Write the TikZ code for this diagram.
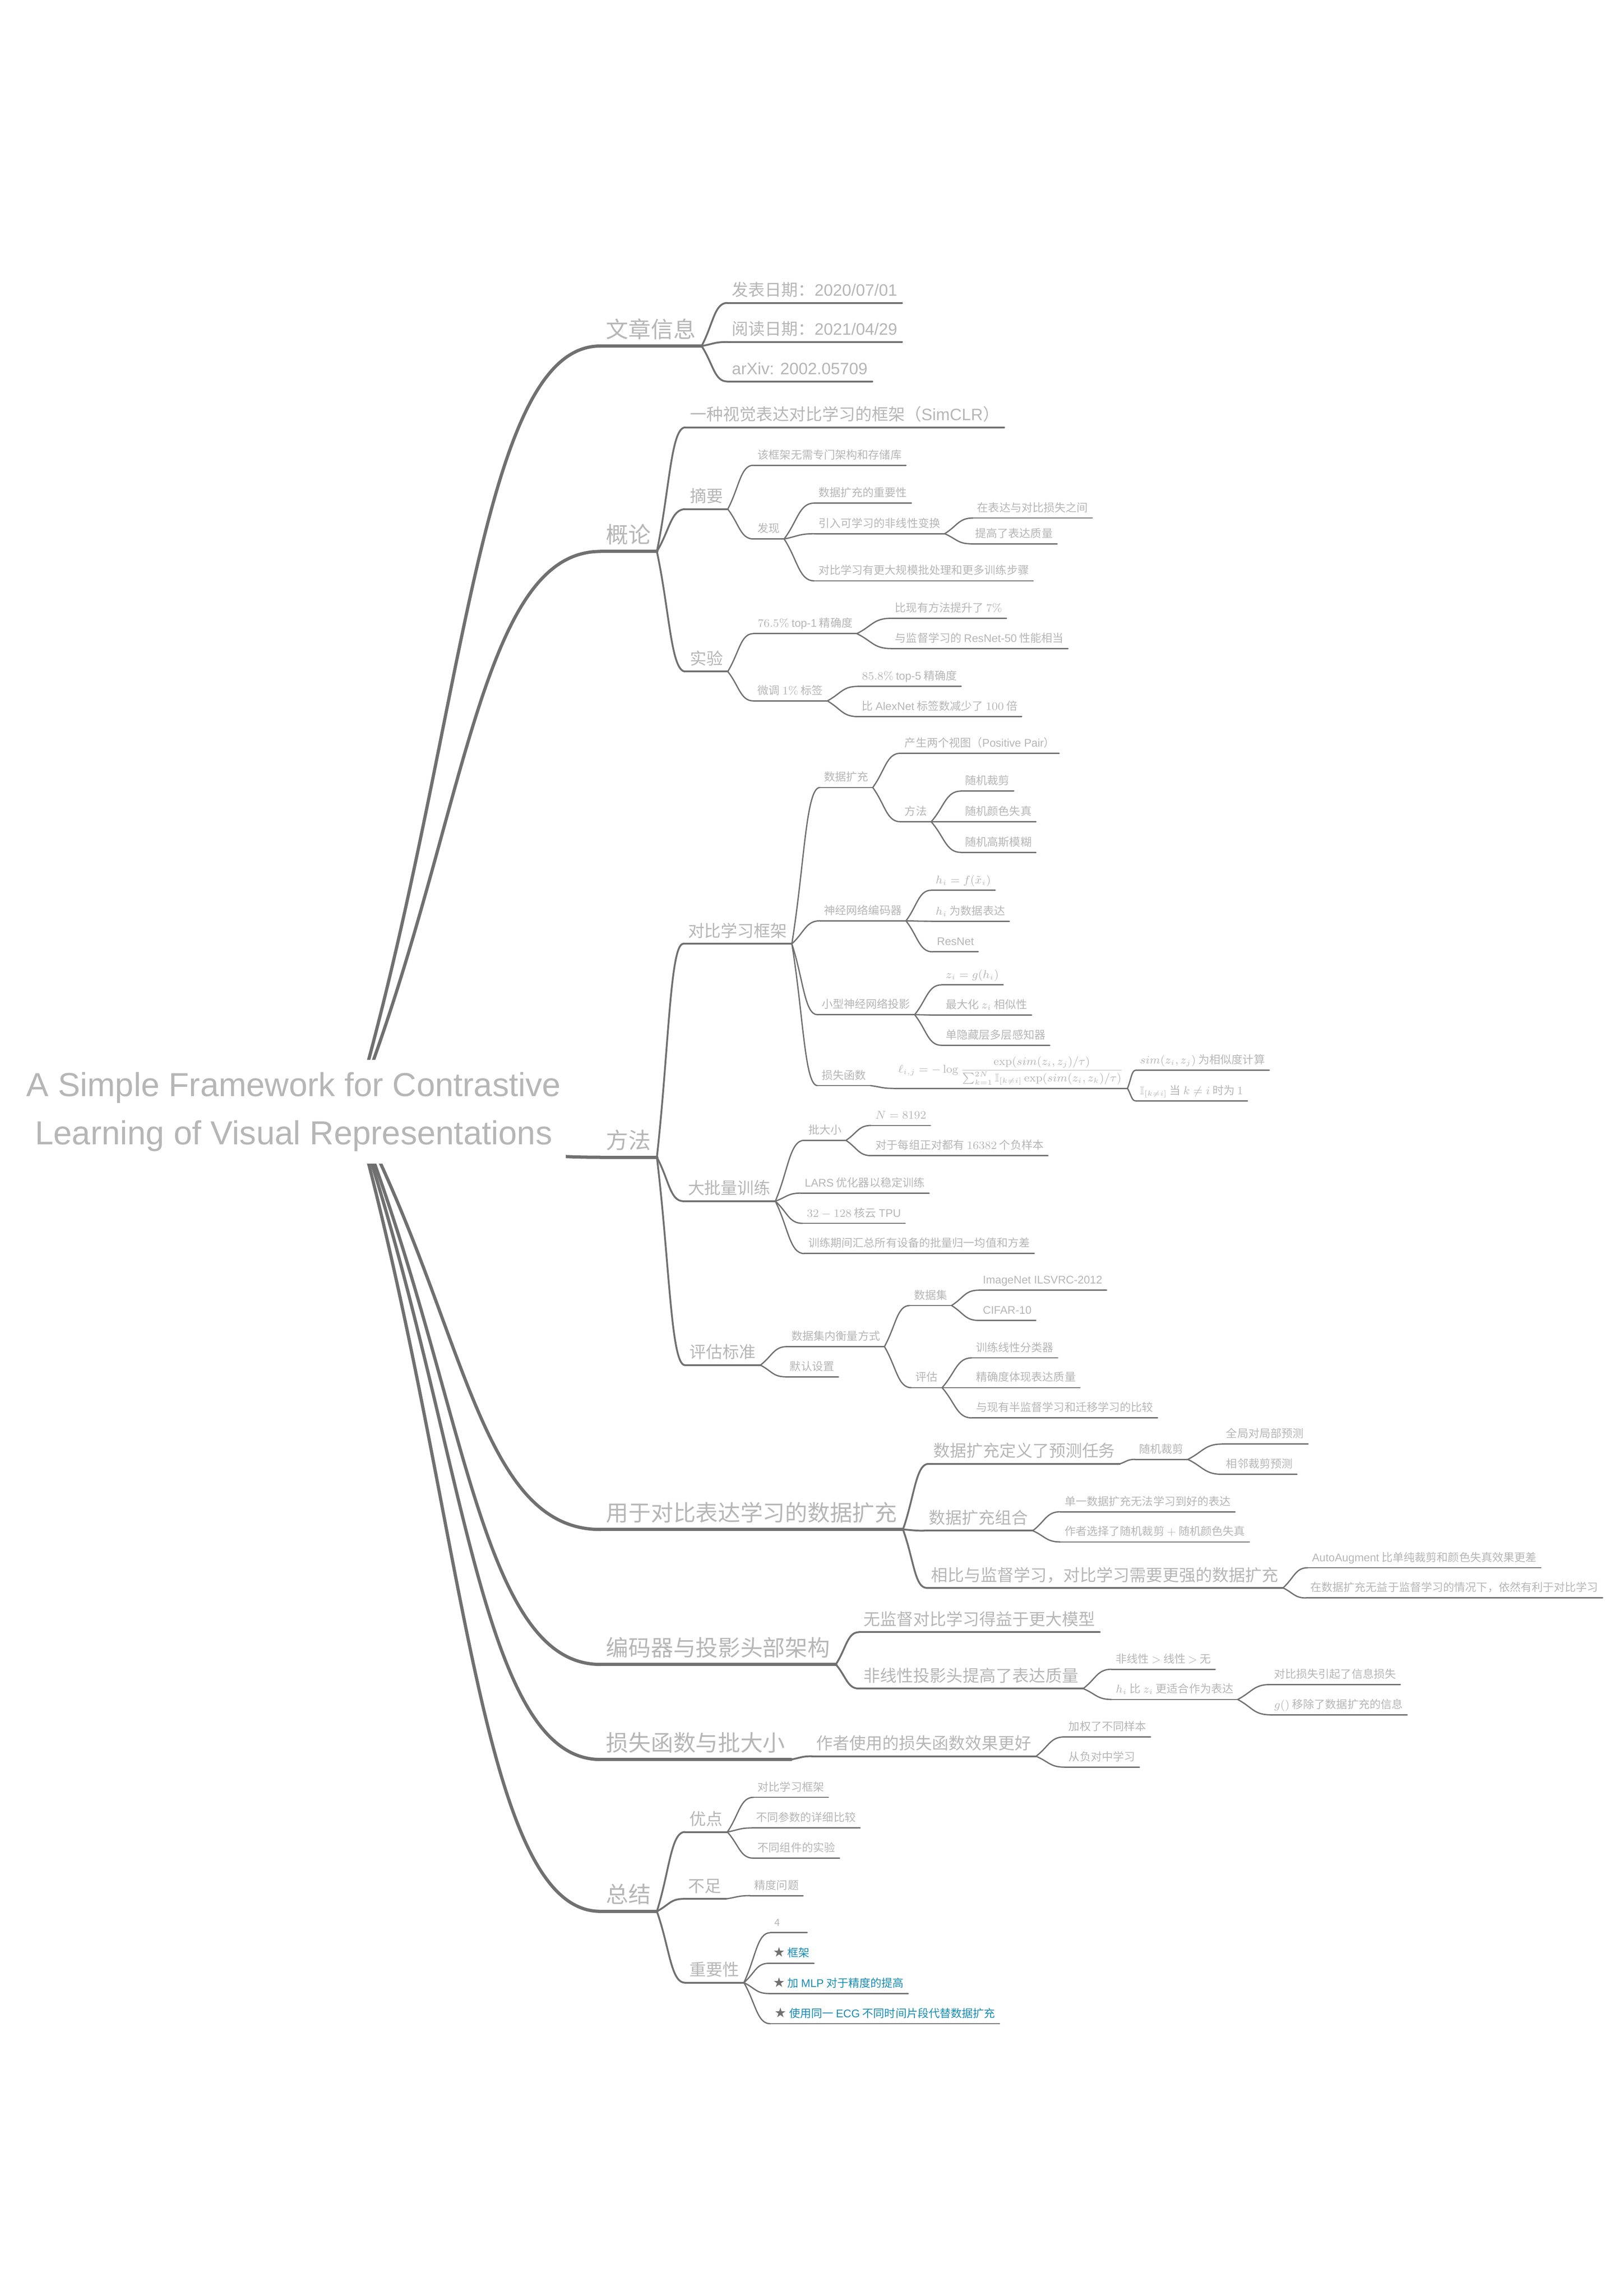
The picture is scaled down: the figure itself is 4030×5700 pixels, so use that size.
\documentclass[tikz,border=0pt]{standalone}
\usepackage{amsmath,amssymb}
\usepackage[no-math]{fontspec}
\setmainfont{Noto Sans CJK SC}
\newfontfamily\latfont{Liberation Sans}
\newfontfamily\starfont{DejaVu Sans}
\usepackage{xcolor}
\usetikzlibrary{calc}
\definecolor{linegray}{RGB}{112,112,112}
\definecolor{textgray}{RGB}{182,182,182}
\definecolor{keyblue}{RGB}{24,140,181}
\newcommand\fzroot{\fontsize{23.5pt}{34pt}\selectfont}
\newcommand\fzone{\fontsize{15.8pt}{19pt}\selectfont}
\newcommand\fztwo{\fontsize{11.67pt}{14pt}\selectfont}
\newcommand\fzthree{\fontsize{7.82pt}{9.4pt}\selectfont}
\newcommand\lat[1]{{\latfont #1}}
\newcommand\key[1]{{\starfont\fontsize{9.5pt}{9.4pt}\selectfont\textcolor{linegray}{★}}\ \textcolor{keyblue}{#1}}
\tikzstyle{topic}=[anchor=south west, text=textgray, text height=0.85em, text depth=0.15em]
\tikzstyle{lone}=[topic, font=\fzone, inner xsep=1.4mm, inner ysep=1.5mm]
\tikzstyle{ltwo}=[topic, font=\fztwo, inner xsep=1.1mm, inner ysep=1.1mm]
\tikzstyle{lthree}=[topic, font=\fzthree, inner xsep=1mm, inner ysep=1mm]
\tikzstyle{wone}=[draw=linegray, line width=0.8mm, line cap=round]
\tikzstyle{wtwo}=[draw=linegray, line width=0.45mm, line cap=round]
\tikzstyle{wthree}=[draw=linegray, line width=0.32mm, line cap=round]
\tikzstyle{link}=[to path={let \p1=(\tikztostart), \p2=(\tikztotarget) in
  .. controls ({\x1+0.45*(\x2-\x1)},{\y1+0.5*(\y2-\y1)}) and ({\x1+0.5*(\x2-\x1)},\y2) .. (\tikztotarget)}]

\begin{document}
\begin{tikzpicture}[x=0.1mm,y=-0.1mm]
\useasboundingbox (0,0) rectangle (4030,5700);
\fill[white] (0,0) rectangle (4030,5700);
\coordinate (hub) at (880,2757);

\node[lone] (info) at (1490,859) {文章信息};
\node[ltwo] (pub) at (1805,752) {发表日期：\lat{2020/07/01}};
\node[ltwo] (read) at (1805,849) {阅读日期：\lat{2021/04/29}};
\node[ltwo] (arxiv) at (1805,947) {\lat{arXiv: 2002.05709}};

\node[lone] (intro) at (1490,1369) {概论};
\node[ltwo] (simclr) at (1701,1061) {一种视觉表达对比学习的框架（\lat{SimCLR}）};
\node[ltwo] (abstract) at (1701,1264) {摘要};
\node[lthree] (nomem) at (1870,1155) {该框架无需专门架构和存储库};
\node[lthree] (found) at (1870,1338) {发现};
\node[lthree] (augimp) at (2021,1249) {数据扩充的重要性};
\node[lthree] (nonlin) at (2021,1325) {引入可学习的非线性变换};
\node[lthree] (between) at (2415,1286) {在表达与对比损失之间};
\node[lthree] (quality) at (2410,1350) {提高了表达质量};
\node[lthree] (bigger) at (2021,1442) {对比学习有更大规模批处理和更多训练步骤};
\node[ltwo] (exper) at (1701,1667) {实验};
\node[lthree] (topone) at (1870,1573) {$76.5\%$ \lat{top-1} 精确度};
\node[lthree] (better) at (2211,1535) {比现有方法提升了 $7\%$};
\node[lthree] (resnet) at (2211,1610) {与监督学习的 \lat{ResNet-50} 性能相当};
\node[lthree] (fine) at (1870,1740) {微调 $1\%$ 标签};
\node[lthree] (topfive) at (2129,1704) {$85.8\%$ \lat{top-5} 精确度};
\node[lthree] (alex) at (2129,1779) {比 \lat{AlexNet} 标签数减少了 $100$ 倍};

\node[lone] (method) at (1490,2873) {方法};
\node[ltwo] (frame) at (1696,2343) {对比学习框架};
\node[lthree] (daug) at (2035,1955) {数据扩充};
\node[lthree] (pair) at (2235,1870) {产生两个视图（\lat{Positive Pair}）};
\node[lthree] (way) at (2235,2040) {方法};
\node[lthree] (crop) at (2385,1964) {随机裁剪};
\node[lthree] (color) at (2385,2040) {随机颜色失真};
\node[lthree] (blur) at (2385,2116) {随机高斯模糊};
\node[lthree] (encoder) at (2035,2286) {神经网络编码器};
\node[lthree] (hf) at (2312,2210) {$h_i=f(\tilde{x}_i)$};
\node[lthree] (hrep) at (2312,2287) {$h_i$ 为数据表达};
\node[lthree] (rn) at (2315,2363) {\lat{ResNet}};
\node[lthree] (proj) at (2029,2519) {小型神经网络投影};
\node[lthree] (zg) at (2337,2445) {$z_i=g(h_i)$};
\node[lthree] (maxz) at (2337,2520) {最大化 $z_i$ 相似性};
\node[lthree] (mlp) at (2337,2595) {单隐藏层多层感知器};
\node[lthree] (loss) at (2029,2695) {损失函数};
\node[lthree, text height=, text depth=, inner ysep=0.8mm] (form) at (2219,2702)
  {$\ell_{i,j}=-\log\dfrac{\exp(sim(z_i,z_j)/\tau)}{\sum_{k=1}^{2N}\mathbb{I}_{[k\neq i]}\exp(sim(z_i,z_k)/\tau)}$};
\node[lthree] (sim) at (2819,2657) {$sim(z_i,z_j)$ 为相似度计算};
\node[lthree] (ind) at (2819,2733) {$\mathbb{I}_{[k\neq i]}$ 当 $k\neq i$ 时为 $1$};
\node[ltwo] (large) at (1696,2982) {大批量训练};
\node[lthree] (batch) at (1996,2831) {批大小};
\node[lthree] (nsize) at (2162,2794) {$N=8192$};
\node[lthree] (neg) at (2163,2869) {对于每组正对都有 $16382$ 个负样本};
\node[lthree] (lars) at (1987,2962) {\lat{LARS} 优化器以稳定训练};
\node[lthree] (tpu) at (1992,3037) {$32-128$ 核云 \lat{TPU}};
\node[lthree] (bn) at (1996,3112) {训练期间汇总所有设备的批量归一均值和方差};
\node[ltwo] (eval) at (1700,3389) {评估标准};
\node[lthree] (within) at (1954,3343) {数据集内衡量方式};
\node[lthree] (dset) at (2258,3241) {数据集};
\node[lthree] (imnet) at (2429,3203) {\lat{ImageNet ILSVRC-2012}};
\node[lthree] (cifar) at (2429,3278) {\lat{CIFAR-10}};
\node[lthree] (assess) at (2262,3445) {评估};
\node[lthree] (linc) at (2412,3371) {训练线性分类器};
\node[lthree] (accq) at (2412,3445) {精确度体现表达质量};
\node[lthree] (cmp) at (2412,3520) {与现有半监督学习和迁移学习的比较};
\node[lthree] (default) at (1950,3418) {默认设置};

\node[lone] (aug) at (1490,3797) {用于对比表达学习的数据扩充};
\node[ltwo] (task) at (2305,3634) {数据扩充定义了预测任务};
\node[lthree] (rcrop) at (2817,3623) {随机裁剪};
\node[lthree] (glob) at (3033,3585) {全局对局部预测};
\node[lthree] (adj) at (3033,3660) {相邻裁剪预测};
\node[ltwo] (combo) at (2294,3800) {数据扩充组合};
\node[lthree] (single) at (2632,3753) {单一数据扩充无法学习到好的表达};
\node[lthree] (chose) at (2632,3828) {作者选择了随机裁剪 $+$ 随机颜色失真};
\node[ltwo] (strong) at (2300,3942) {相比与监督学习，对比学习需要更强的数据扩充};
\node[lthree] (auto) at (3246,3892) {\lat{AutoAugment} 比单纯裁剪和颜色失真效果更差};
\node[lthree] (still) at (3242,3967) {在数据扩充无益于监督学习的情况下，依然有利于对比学习};

\node[lone] (arch) at (1490,4132) {编码器与投影头部架构};
\node[ltwo] (bigm) at (2132,4052) {无监督对比学习得益于更大模型};
\node[ltwo] (nlh) at (2132,4192) {非线性投影头提高了表达质量};
\node[lthree] (order) at (2759,4144) {非线性 $>$ 线性 $>$ 无};
\node[lthree] (hz) at (2759,4219) {$h_i$ 比 $z_i$ 更适合作为表达};
\node[lthree] (infl) at (3152,4182) {对比损失引起了信息损失};
\node[lthree] (grm) at (3152,4257) {$g()$ 移除了数据扩充的信息};

\node[lone] (lossb) at (1490,4368) {损失函数与批大小};
\node[ltwo] (lbetter) at (2015,4360) {作者使用的损失函数效果更好};
\node[lthree] (weight) at (2642,4312) {加权了不同样本};
\node[lthree] (negl) at (2642,4387) {从负对中学习};

\node[lone] (summ) at (1490,4745) {总结};
\node[ltwo] (pros) at (1700,4548) {优点};
\node[lthree] (p1) at (1870,4462) {对比学习框架};
\node[lthree] (p2) at (1866,4538) {不同参数的详细比较};
\node[lthree] (p3) at (1870,4613) {不同组件的实验};
\node[ltwo] (cons) at (1697,4714) {不足};
\node[lthree] (c1) at (1862,4706) {精度问题};
\node[ltwo] (signif) at (1700,4922) {重要性};
\node[lthree, text width=7mm, align=left] (s0) at (1912,4798) {\scriptsize 4};
\node[lthree] (s1) at (1908,4874) {\key{框架}};
\node[lthree] (s2) at (1908,4949) {\key{加 \lat{MLP} 对于精度的提高}};
\node[lthree] (s3) at (1912,5024) {\key{使用同一 \lat{ECG} 不同时间片段代替数据扩充}};

\foreach \t in {info,intro,method,aug,arch,lossb,summ}
  \draw[wone, link] (hub) to (\t.south west);
\foreach \n in {info,intro,method,aug,arch,lossb,summ}
  \draw[wone] (\n.south west) -- (\n.south east);
\foreach \n in {pub,read,arxiv,simclr,abstract,exper,frame,large,eval,task,combo,strong,bigm,nlh,lbetter,pros,cons,signif}
  \draw[wtwo] (\n.south west) -- (\n.south east);
\foreach \n in {nomem,found,augimp,nonlin,between,quality,bigger,topone,better,resnet,fine,topfive,alex,
  daug,pair,way,crop,color,blur,encoder,hf,hrep,rn,proj,zg,maxz,mlp,loss,form,sim,ind,
  batch,nsize,neg,lars,tpu,bn,within,dset,imnet,cifar,assess,linc,accq,cmp,default,
  rcrop,glob,adj,single,chose,auto,still,order,hz,infl,grm,weight,negl,p1,p2,p3,c1,s0,s1,s2,s3}
  \draw[wthree] (\n.south west) -- (\n.south east);

\foreach \a/\b in {info/pub,info/read,info/arxiv,intro/simclr,intro/abstract,intro/exper,
  method/frame,method/large,method/eval,aug/task,aug/combo,aug/strong,arch/bigm,arch/nlh,
  lossb/lbetter,summ/pros,summ/cons,summ/signif}
  \draw[wtwo, link] (\a.south east) to (\b.south west);
\foreach \a/\b in {abstract/nomem,abstract/found,found/augimp,found/nonlin,found/bigger,
  nonlin/between,nonlin/quality,exper/topone,exper/fine,topone/better,topone/resnet,
  fine/topfive,fine/alex,frame/daug,frame/encoder,frame/proj,frame/loss,daug/pair,daug/way,
  way/crop,way/color,way/blur,encoder/hf,encoder/hrep,encoder/rn,proj/zg,proj/maxz,proj/mlp,
  loss/form,form/sim,form/ind,
  large/batch,large/lars,large/tpu,large/bn,batch/nsize,batch/neg,eval/within,eval/default,
  within/dset,within/assess,dset/imnet,dset/cifar,assess/linc,assess/accq,assess/cmp,task/rcrop,
  rcrop/glob,rcrop/adj,combo/single,combo/chose,strong/auto,strong/still,nlh/order,nlh/hz,
  hz/infl,hz/grm,lbetter/weight,lbetter/negl,pros/p1,pros/p2,pros/p3,cons/c1,
  signif/s0,signif/s1,signif/s2,signif/s3}
  \draw[wthree, link] (\a.south east) to (\b.south west);

\node[fill=white, text=textgray, font=\fzroot\latfont, align=center, minimum width=134.6mm,
  minimum height=25.7mm] (title) at (729,2760) {A Simple Framework for Contrastive\\Learning of Visual Representations};
\end{tikzpicture}
\end{document}
